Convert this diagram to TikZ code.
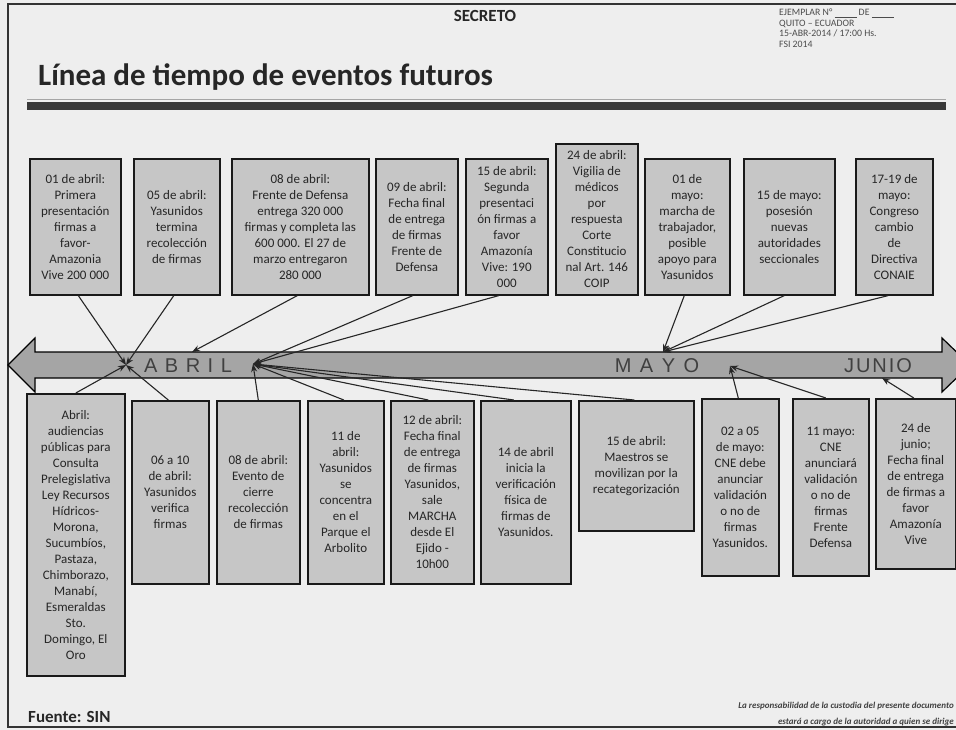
\documentclass[tikz,border=0pt]{standalone}
\usepackage{fontspec}
\setmainfont{Carlito}
\newfontfamily\arialfont{Liberation Sans}
\usetikzlibrary{arrows.meta,calc}
\definecolor{pagebg}{RGB}{238,238,238}
\definecolor{boxgray}{RGB}{198,198,198}
\definecolor{ink}{RGB}{38,38,38}
\definecolor{tlgray}{RGB}{165,165,165}
\begin{document}
\begin{tikzpicture}[x=1pt,y=-1pt,
  evbox/.style={draw=black!90, line width=1.6pt, fill=boxgray, align=center, inner sep=2pt,
    text=ink, font=\fontsize{13}{16}\selectfont, anchor=north west},
  conn/.style={draw=black!85, line width=1.1pt, -{Stealth[length=8pt,width=6pt]}},
  tllabel/.style={font=\arialfont\fontsize{20}{20}\selectfont, text=black!75, inner sep=0pt}
]
\useasboundingbox (0,0) rectangle (956,730);
\fill[pagebg] (0,0) rectangle (956,730);
% frame
\draw[line width=1.4pt, black!80] (956,4) -- (8,4) -- (8,727) -- (956,727);

% header
\node[font=\bfseries\fontsize{17}{17}\selectfont, text=ink, inner sep=0pt] (secreto) at (485,16) {SECRETO};
\node[anchor=north west, align=left, font=\fontsize{9.8}{10.5}\selectfont, inner sep=0pt, text=black!70] (ejemplar) at (779,9)
  {EJEMPLAR N° \underline{\hspace{22pt}} DE \underline{\hspace{22pt}}\\QUITO – ECUADOR\\15-ABR-2014 / 17:00 Hs.\\FSI 2014};
\node[anchor=base west, font=\bfseries\fontsize{31}{31}\selectfont, text=ink, inner sep=0pt] (title) at (38,86)
  {Línea de tiempo de eventos futuros};
\draw[black!35, line width=0.8pt] (27,99.5) -- (946,99.5);
\fill[black!78] (27,102) rectangle (946,110);

% timeline arrow
\begin{scope}
\clip (0,0) rectangle (956,730);
\draw[line width=1.2pt, fill=tlgray] (8,365) -- (35,338) -- (35,352) -- (942,352) -- (942,338)
  -- (970,365) -- (942,392) -- (942,378) -- (35,378) -- (35,392) -- cycle;
\end{scope}
\node[tllabel] (abril) at (188,366) {A\hspace{7.5pt}B\hspace{7.5pt}R\hspace{7.5pt}I\hspace{7.5pt}L};
\node[tllabel] (mayo) at (657,366) {M\hspace{8.5pt}A\hspace{8.5pt}Y\hspace{8.5pt}O};
\node[tllabel] (junio) at (878,366) {J\hspace{2pt}U\hspace{2pt}N\hspace{2pt}I\hspace{2pt}O};

% top boxes
\node[evbox, minimum width=91, minimum height=136] (t1) at (29,158)
  {01 de abril:\\Primera\\presentación\\firmas a\\favor-\\Amazonia\\Vive 200 000};
\node[evbox, minimum width=86, minimum height=136] (t2) at (133,158)
  {05 de abril:\\Yasunidos\\termina\\recolección\\de firmas};
\node[evbox, minimum width=137, minimum height=136] (t3) at (231,158)
  {08 de abril:\\Frente de Defensa\\entrega 320 000\\firmas y completa las\\600 000. El 27 de\\marzo entregaron\\280 000};
\node[evbox, minimum width=82, minimum height=136] (t4) at (375,158)
  {09 de abril:\\Fecha final\\de entrega\\de firmas\\Frente de\\Defensa};
\node[evbox, minimum width=82, minimum height=136] (t5) at (465,158)
  {15 de abril:\\Segunda\\presentaci\\ón firmas a\\favor\\Amazonía\\Vive: 190\\000};
\node[evbox, minimum width=82, minimum height=151] (t6) at (555,143)
  {24 de abril:\\Vigilia de\\médicos\\por\\respuesta\\Corte\\Constitucio\\nal Art. 146\\COIP};
\node[evbox, minimum width=85, minimum height=136] (t7) at (644,158)
  {01 de\\mayo:\\marcha de\\trabajador,\\posible\\apoyo para\\Yasunidos};
\node[evbox, minimum width=91, minimum height=136] (t8) at (743,158)
  {15 de mayo:\\posesión\\nuevas\\autoridades\\seccionales};
\node[evbox, minimum width=77, minimum height=136] (t9) at (855,158)
  {17-19 de\\mayo:\\Congreso\\cambio\\de\\Directiva\\CONAIE};

% bottom boxes
\node[evbox, minimum width=98, minimum height=282] (b1) at (26,393)
  {Abril:\\audiencias\\públicas para\\Consulta\\Prelegislativa\\Ley Recursos\\Hídricos-\\Morona,\\Sucumbíos,\\Pastaza,\\Chimborazo,\\Manabí,\\Esmeraldas\\Sto.\\Domingo, El\\Oro};
\node[evbox, minimum width=77, minimum height=183] (b2) at (131,400)
  {06 a 10\\de abril:\\Yasunidos\\verifica\\firmas};
\node[evbox, minimum width=83, minimum height=183] (b3) at (216,400)
  {08 de abril:\\Evento de\\cierre\\recolección\\de firmas};
\node[evbox, minimum width=76, minimum height=183] (b4) at (307,400)
  {11 de\\abril:\\Yasunidos\\se\\concentra\\en el\\Parque el\\Arbolito};
\node[evbox, minimum width=83, minimum height=183] (b5) at (390,400)
  {12 de abril:\\Fecha final\\de entrega\\de firmas\\Yasunidos,\\sale\\MARCHA\\desde El\\Ejido -\\10h00};
\node[evbox, minimum width=90, minimum height=183] (b6) at (480,400)
  {14 de abril\\inicia la\\verificación\\física de\\firmas de\\Yasunidos.};
\node[evbox, minimum width=115, minimum height=130] (b7) at (578,400)
  {15 de abril:\\Maestros se\\movilizan por la\\recategorización};
\node[evbox, minimum width=77, minimum height=177] (b8) at (701,398)
  {02 a 05\\de mayo:\\CNE debe\\anunciar\\validación\\o no de\\firmas\\Yasunidos.};
\node[evbox, minimum width=76, minimum height=177] (b9) at (792,398)
  {11 mayo:\\CNE\\anunciará\\validación\\o no de\\firmas\\Frente\\Defensa};
\node[evbox, minimum width=80, minimum height=170] (b10) at (875,398)
  {24 de\\junio;\\Fecha final\\de entrega\\de firmas a\\favor\\Amazonía\\Vive};

% convergence points
\coordinate (P1) at (126,365);
\coordinate (P2) at (253,364);
\coordinate (PA) at (192,352);
\coordinate (P3) at (663,352);
\coordinate (P4) at (730,366);
\coordinate (P5) at (882,378);

% connectors
\draw[conn] ($(t1.south)+(3,0)$) -- (P1);
\draw[conn] ($(t2.south)+(-3,0)$) -- (P1);
\draw[conn] ($(t3.south)+(-3,0)$) -- (PA);
\draw[conn] ($(t4.south)+(-4,0)$) -- (P2);
\draw[conn] ($(t5.south)+(-8,0)$) -- (P2);
\draw[conn] ($(t7.south)+(-3,0)$) -- (P3);
\draw[conn] ($(t8.south)+(-5,0)$) -- (P3);
\draw[conn] ($(t9.south)+(-6,0)$) -- (P3);
\draw[conn] (b1.north) -- (P1);
\draw[conn] ($(b2.north)+(-2,0)$) -- (P1);
\draw[conn] (b3.north) -- (P2);
\draw[conn] ($(b4.north)+(-2,0)$) -- (P2);
\draw[conn] ($(b5.north)+(-4,0)$) -- (P2);
\draw[conn] ($(b6.north)+(-12,0)$) -- (P2);
\draw[conn] ($(b7.north)+(-2,0)$) -- (P2);
\draw[conn] ($(b8.north)+(-2,0)$) -- (P4);
\draw[conn] ($(b9.north)+(-5,0)$) -- (P4);
\draw[conn] ($(b10.north)+(-2,0)$) -- (P5);

% footer
\node[anchor=base west, font=\bfseries\fontsize{17}{17}\selectfont, text=ink, inner sep=0pt] (fuente) at (28,722) {Fuente: SIN};
\node[anchor=south east, align=right, font=\bfseries\itshape\fontsize{9}{16}\selectfont, inner sep=0pt, text=black!75] (nota) at (954,726)
  {La responsabilidad de la custodia del presente documento\\estará a cargo de la autoridad a quien se dirige};
\end{tikzpicture}
\end{document}
